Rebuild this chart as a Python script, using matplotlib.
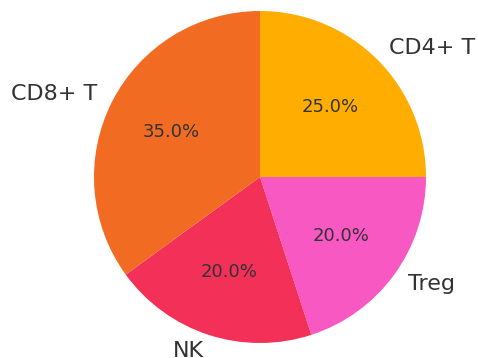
import matplotlib
matplotlib.use("Agg")
import matplotlib.pyplot as plt

# cell populations and their shares
labels = ["CD4+ T", "Treg", "NK", "CD8+ T"]
shares = [25, 20, 20, 35]
colors = ["#FFAD00", "#F858C2", "#F33058", "#F26B22"]

fig = plt.figure(figsize=(4.78, 3.58), dpi=100)
# square axes, 166 px per data unit, pie centred at (260, 177) px
W, H = 478.0, 358.0
scale = 166.0
half = 1.2 * scale
cx, cy = 260.0, H - 177.0
ax = fig.add_axes([(cx - half) / W, (cy - half) / H, 2 * half / W, 2 * half / H])

wedges, texts, autotexts = ax.pie(
    shares, labels=labels, colors=colors, autopct="%1.1f%%",
    startangle=90, counterclock=False,
    textprops={"color": "#333333"},
)
for t in texts:
    t.set_fontsize(16)
for t in autotexts:
    t.set_fontsize(13)

ax.set_xlim(-1.2, 1.2)
ax.set_ylim(-1.2, 1.2)
ax.set_aspect("equal")
ax.axis("off")

fig.savefig("out.png", dpi=100)
